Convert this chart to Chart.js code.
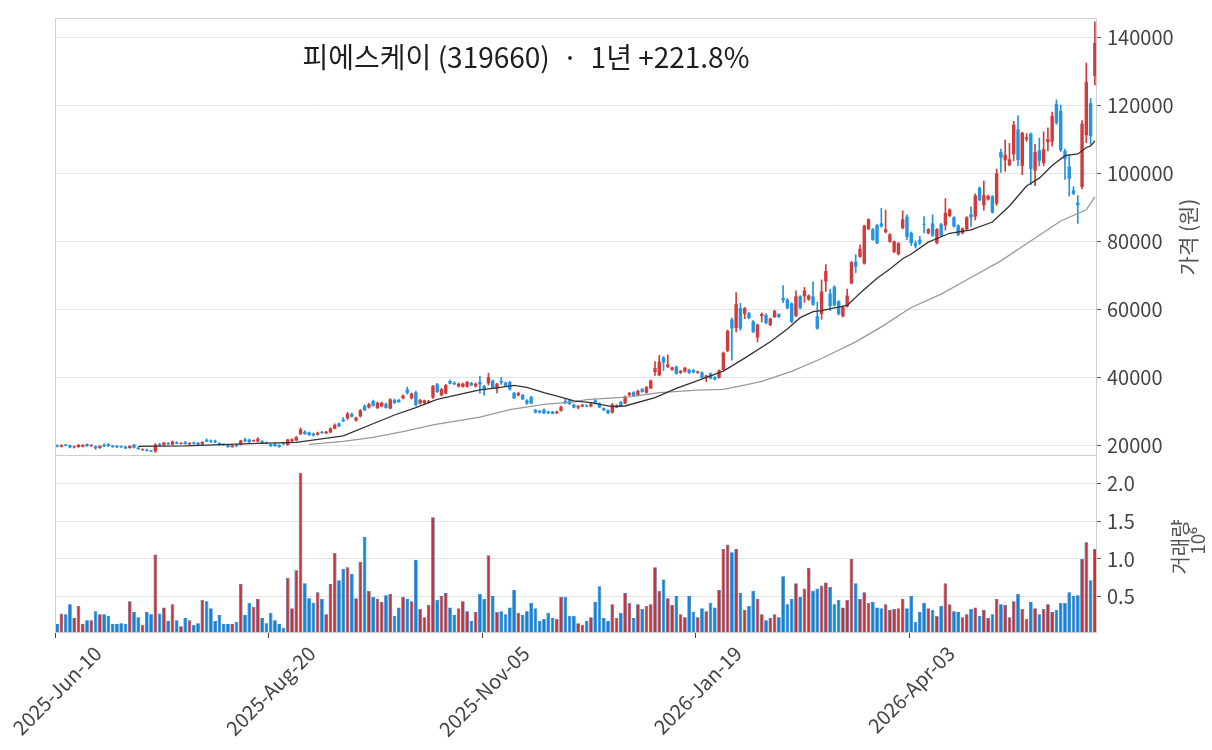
<!DOCTYPE html>
<html><head><meta charset="utf-8">
<script src="https://cdn.jsdelivr.net/npm/chart.js@4.4.1/dist/chart.umd.min.js"></script>
<style>
html,body{margin:0;padding:0;background:#fff;}
#wrap{position:relative;width:1212px;height:750px;background:#fff;}
canvas{position:absolute;left:0;top:0;}
</style></head><body>
<div id="wrap"><canvas id="price" width="1212" height="750"></canvas><canvas id="vol" width="1212" height="750"></canvas></div>
<script>
// ---------------- data ----------------
const startDate = '2025-06-10';
const holidays = ['2025-08-15','2025-10-03','2025-10-06','2025-10-07','2025-10-08','2025-10-09','2025-12-25','2025-12-31','2026-01-01','2026-02-16','2026-02-17','2026-02-18','2026-03-02','2026-05-01','2026-05-05','2026-05-25','2026-06-03'];
const tickEvery = 50;
const priceTicks = [20000, 40000, 60000, 80000, 100000, 120000, 140000];
const volumeTicks = [0.5, 1.0, 1.5, 2.0];
const titleText = '피에스케이 (319660)  ·  1년 +221.8%';
const priceLabel = '가격 (원)';
const volumeLabel = '거래량';
const volumeUnit = '10⁶';

const opens = [
20100,19700,20150,20100,19500,19600,19700,20400,19900,19800,
19300,20300,20400,20000,19900,19700,19700,19300,20300,19400,
18700,18800,18500,18300,20400,20200,20600,20300,21000,20500,
21000,20400,20900,20800,20400,21700,21300,21400,20800,20400,
20200,19600,20300,20300,21800,21800,21300,21200,21300,21000,
20400,20600,20200,20600,20200,21300,21500,23400,24100,23900,
23500,23200,24000,23600,23900,25000,26500,27700,28000,29300,
27400,28600,31700,31200,33100,31000,31500,32200,30900,33400,
33400,33900,36500,33900,35700,32400,32500,32700,34100,38000,
34800,35300,39000,38500,37400,37300,37300,38400,37400,38700,
37500,38300,39100,36800,39000,38500,38700,35500,34800,34900,
33300,34300,30500,30200,30600,30000,30000,29500,30200,33100,
33300,32000,31200,31500,31800,31500,33300,32400,31000,30400,
29750,31200,32800,32400,34800,35700,34900,36600,35550,36800,
41600,40700,45900,43100,42300,43200,41400,41800,42300,42200,
41400,41500,40000,41200,40100,39900,42300,47800,57100,54600,
60400,58700,58900,56500,51800,58100,58400,55400,57800,58600,
63400,62900,61800,58100,63900,63900,62900,63900,58000,58700,
68200,64700,66700,62400,58000,60900,67700,74000,75500,73500,
83600,83600,84800,85300,82700,79900,76900,76200,83900,87300,
82500,79500,80500,85100,82400,85300,79500,85000,84700,87500,
87100,84700,82400,83600,88000,87300,95800,90600,92300,93300,
91100,106300,103800,102400,105600,112900,102200,110000,111700,100800,
106800,103000,109200,109300,120400,118400,106600,102000,95000,91400,
96000,111200,120600,128600];
const highs = [
20250,20300,20400,20200,19900,20400,20300,20500,20300,19900,
20000,20500,20600,20100,20100,19900,19800,20000,20400,19500,
19100,19000,18600,20600,20700,21000,20900,21400,21200,20900,
21300,20900,21100,21000,21200,22000,21700,21600,20900,20500,
20300,20200,20400,21600,22200,21900,21700,22400,21500,21100,
20500,20700,20300,20800,21900,22000,22700,25200,24400,24000,
23700,24000,24300,24200,25200,26400,26700,28300,29800,29600,
28400,30600,32000,32400,33400,32800,32800,32500,33800,33700,
33600,34900,37200,35500,36000,33600,33400,33300,37700,38300,
36800,38000,39300,38800,38400,38400,38900,38600,38400,40400,
37700,41300,39300,38400,40100,38700,38900,35700,35700,35100,
33500,34500,30700,30400,30800,30200,30100,30200,31600,33800,
33500,32200,31800,32100,32000,32500,33800,32600,31100,30500,
32400,32000,33000,34600,35700,35900,36300,36800,37400,39300,
44700,46500,46200,46700,43100,43400,42100,43000,42500,42400,
41900,41700,40700,41400,40300,42300,47500,54000,57500,65000,
61800,60600,59200,56800,55700,59000,58700,57500,59800,58800,
67000,63200,62000,65500,64100,66500,64300,68100,62100,68700,
73200,66000,67000,62600,60900,66000,74100,76100,79000,84800,
86700,83800,85000,89700,89200,82300,80200,79700,89000,87800,
82800,80200,81500,87300,83800,87800,83800,85300,92600,89600,
87300,84900,84000,87300,90200,94000,96000,97700,93600,93500,
101300,107100,109800,108800,115300,116900,112100,111700,111900,108500,
110400,112200,113400,118000,121600,120100,107100,105600,96100,93500,
115500,132400,122000,144500];
const lows = [
19600,19600,19900,19300,19300,19500,19600,19800,19700,18900,
19200,19700,19700,19500,19400,19400,19100,19200,19300,18900,
18600,18400,18200,18000,20000,20100,20300,20200,20500,20400,
20400,20300,20400,20200,20300,21100,20900,20900,20100,20100,
19500,19500,19700,20200,21100,20900,21200,21100,20600,20500,
19700,19800,19500,20300,20100,21200,21400,23200,23300,23000,
22800,23100,23600,23500,23800,24900,25500,27000,27700,28400,
27200,28400,30300,31000,31600,30900,31400,31000,30800,32400,
32700,33700,35100,33700,31700,32200,32300,32500,33900,35600,
34600,35200,38100,37900,37200,37200,37200,37600,37200,35400,
34800,37800,36800,35500,38000,37500,36300,33800,34600,33500,
32100,32300,29600,29600,29400,29400,29300,29400,30100,32300,
32100,31100,30800,31400,31400,31400,32300,31100,30300,29400,
29500,31100,31500,32300,34700,34500,34800,35700,35400,36700,
40600,40500,42100,42900,42100,41000,41200,41600,41200,41400,
41200,39800,38800,39600,39300,39800,42200,47600,45100,53400,
53900,57300,57300,53200,50500,56300,55800,55200,57600,57600,
62000,60200,56100,57900,60200,62100,62700,61200,54200,57100,
65300,59700,61000,58400,57800,60700,67500,70800,75300,73300,
83400,80300,79300,84200,82500,79700,76700,76000,83700,80500,
78800,78000,79000,82500,82200,81500,79300,81400,83300,87300,
84200,81700,82200,83400,84400,86300,91900,89200,92100,88300,
90600,100300,100600,102200,103700,102200,99600,109400,96700,96400,
102200,102200,106600,108000,114400,106400,98200,93300,93700,85300,
95400,109000,108500,126000];
const closes = [
19700,20200,20050,19500,19700,20200,20200,19900,20100,19200,
19900,19800,19900,19600,19500,19600,19200,19900,19400,19000,
19000,18500,18300,20300,20200,20900,20500,21200,20600,20800,
20500,20800,20500,20300,21100,21200,21200,21000,20300,20300,
19600,20000,19900,21500,21300,21000,21600,22000,20700,20600,
19900,19900,19600,20400,21800,21900,22500,24800,23400,23100,
23000,23800,23700,24100,25100,26100,25700,27200,29400,28500,
28200,30400,30400,32200,31700,32600,32600,31100,33600,32500,
32800,34700,35500,35300,31900,33400,33300,33100,37500,35800,
36600,37800,38200,38000,38200,38200,38700,37700,38200,38000,
36500,40100,37000,38200,38500,37600,36500,33900,35400,33600,
32400,32400,29700,29700,29500,29500,29400,30000,31400,32400,
32200,31200,31700,32000,31500,32400,32400,31200,30400,29500,
32100,31900,31600,34400,35500,34600,36100,35800,37200,39100,
42800,44700,44500,43900,43000,41100,42000,42900,41300,41500,
41800,39900,40600,39700,39400,42100,47300,53700,54400,61600,
54400,60400,57500,53400,55600,58700,56000,57300,59600,57800,
62700,60400,56300,63900,60400,65600,64100,61400,54400,65300,
71300,61000,61200,58600,60700,64100,73900,72600,77800,84600,
86500,80500,79500,84400,83600,82100,80000,79500,86500,81300,
79500,78600,79400,84900,83600,81700,83600,81600,88400,89400,
84400,81900,83800,87100,87100,93500,92100,93700,93400,88500,
100000,104600,105500,104100,114300,103900,111900,110600,101300,106300,
103700,107100,110000,116900,114800,106800,104200,98400,94000,90700,
114600,126900,110900,138300];
// volume in millions of shares
const volumes = [
0.14,0.28,0.27,0.40,0.22,0.38,0.14,0.19,0.19,0.31,
0.27,0.27,0.25,0.14,0.14,0.15,0.14,0.44,0.30,0.23,
0.13,0.30,0.27,1.06,0.28,0.36,0.18,0.40,0.19,0.11,
0.22,0.19,0.13,0.15,0.46,0.44,0.35,0.18,0.26,0.14,
0.14,0.14,0.17,0.67,0.26,0.42,0.37,0.47,0.22,0.15,
0.29,0.19,0.14,0.09,0.75,0.35,0.85,2.14,0.68,0.48,
0.42,0.56,0.47,0.27,0.67,1.08,0.72,0.87,0.89,0.80,
0.48,0.96,1.29,0.58,0.50,0.47,0.43,0.52,0.54,0.25,
0.36,0.50,0.47,0.44,0.99,0.34,0.23,0.39,1.55,0.46,
0.51,0.55,0.36,0.26,0.35,0.44,0.31,0.18,0.30,0.54,
0.47,1.05,0.51,0.30,0.31,0.27,0.36,0.59,0.29,0.26,
0.31,0.42,0.35,0.18,0.21,0.29,0.22,0.21,0.50,0.50,
0.25,0.25,0.15,0.13,0.18,0.23,0.43,0.64,0.22,0.18,
0.40,0.22,0.29,0.55,0.42,0.22,0.40,0.34,0.38,0.40,
0.89,0.58,0.73,0.48,0.39,0.51,0.27,0.23,0.51,0.30,
0.23,0.35,0.31,0.42,0.36,0.59,1.13,1.19,1.09,1.13,
0.55,0.33,0.38,0.58,0.47,0.27,0.19,0.22,0.27,0.23,
0.77,0.40,0.47,0.68,0.50,0.61,0.88,0.58,0.61,0.65,
0.69,0.63,0.40,0.46,0.36,0.46,1.00,0.68,0.47,0.56,
0.42,0.43,0.36,0.35,0.40,0.33,0.34,0.35,0.47,0.35,
0.51,0.17,0.30,0.42,0.35,0.33,0.25,0.38,0.68,0.40,
0.31,0.30,0.23,0.27,0.34,0.36,0.25,0.33,0.22,0.27,
0.47,0.40,0.39,0.23,0.44,0.54,0.34,0.21,0.43,0.35,
0.27,0.34,0.40,0.30,0.33,0.42,0.42,0.56,0.51,0.52,
1.00,1.22,0.72,1.13];
// moving-average lines: [bar index, value]
const maShortPts = [[19,19800],[30,19950],[42,20450],[47,20650],[56,20950],[67,22900],[79,29000],[84,31200],[89,33600],[95,35300],[99,36400],[103,37000],[107,37700],[110,37100],[114,35600],[119,33900],[121,33150],[125,32650],[130,31450],[133,31650],[140,34100],[145,36800],[150,39100],[156,41900],[161,45700],[167,50500],[171,54300],[174,57600],[177,59400],[179,59700],[182,60450],[185,61200],[188,64800],[192,69200],[195,71900],[198,74900],[200,76300],[204,79800],[209,82400],[214,83400],[219,85700],[223,90400],[227,96300],[230,98600],[233,102300],[236,105200],[239,105700],[241,107600],[242,108050],[243,109500]];
const maLongPts = [[59,20400],[67,21250],[74,22450],[81,24100],[88,26100],[99,28400],[106,30600],[114,32150],[121,32850],[124,33500],[134,34300],[141,35550],[150,36300],[156,36550],[161,37800],[165,38900],[172,41800],[179,45600],[187,50500],[193,54900],[200,60600],[207,64500],[214,69400],[221,74300],[227,79300],[235,86000],[241,89300],[243,93100]];

// ---------------- derived ----------------
const MONTHS = ['Jan','Feb','Mar','Apr','May','Jun','Jul','Aug','Sep','Oct','Nov','Dec'];
const dates = [];
(function(){
  const p = startDate.split('-').map(Number);
  let d = new Date(Date.UTC(p[0], p[1]-1, p[2]));
  const iso = x => x.toISOString().slice(0,10);
  while (dates.length < closes.length) {
    const wd = d.getUTCDay();
    if (wd !== 0 && wd !== 6 && holidays.indexOf(iso(d)) < 0) {
      dates.push(d.getUTCFullYear() + '-' + MONTHS[d.getUTCMonth()] + '-' + String(d.getUTCDate()).padStart(2,'0'));
    }
    d = new Date(d.getTime() + 86400000);
  }
})();
const UP = '#d03c3c', DOWN = '#2393e2';
const VUP = '#cf3030', VDOWN = '#1483d6', VEDGE = '#1d6fbd';
const candleColors = closes.map((c,i) => c >= opens[i] ? UP : DOWN);
const volColors = closes.map((c,i) => c >= opens[i] ? VUP : VDOWN);
const bodies = opens.map((o,i) => [o, closes[i]]);
const wicks = lows.map((l,i) => [l, highs[i]]);
function sparse(pts){ const a = new Array(closes.length).fill(null); pts.forEach(p => { a[p[0]] = p[1]; }); return a; }

const FONT = "'Noto Sans CJK KR', 'Noto Sans', sans-serif";
const GRID = '#e4e4e4', FRAME = '#cfcfcf', TEXT = '#444444';
const TICK_FS = 20;

const framePlugin = {
  id: 'frame',
  afterDraw(chart, args, opts) {
    const {ctx, chartArea: a} = chart;
    ctx.save();
    ctx.strokeStyle = FRAME; ctx.lineWidth = 1;
    ctx.strokeRect(Math.round(a.left)+0.5, Math.round(a.top)+0.5, Math.round(a.right-a.left)-1, Math.round(a.bottom-a.top));
    (opts.texts || []).forEach(t => {
      ctx.save();
      ctx.fillStyle = t.color || TEXT;
      ctx.font = t.font;
      ctx.textAlign = 'center'; ctx.textBaseline = 'middle';
      ctx.translate(t.x, t.y);
      if (t.rot) ctx.rotate(t.rot);
      ctx.fillText(t.text, 0, 0);
      ctx.restore();
    });
    if (opts.dateLabels) {
      const xs = chart.scales.x;
      ctx.font = TICK_FS + 'px ' + FONT;
      ctx.fillStyle = TEXT;
      ctx.textAlign = 'center'; ctx.textBaseline = 'middle';
      for (let i = 0; i < dates.length; i += tickEvery) {
        const txt = dates[i];
        const w = ctx.measureText(txt).width;
        const half = (w + TICK_FS * 0.95) / (2 * Math.SQRT2);
        const x = xs.getPixelForValue(i);
        const y = a.bottom + 11 + half;
        ctx.save();
        ctx.translate(x, y);
        ctx.rotate(-Math.PI / 4);
        ctx.fillText(txt, 0, 0);
        ctx.restore();
      }
    }
    ctx.restore();
  }
};

function fixTicks(list) { return s => { s.ticks = list.map(v => ({ value: v })); }; }

new Chart(document.getElementById('price'), {
  type: 'bar',
  data: {
    labels: dates,
    datasets: [
      { type: 'line', data: sparse(maShortPts), borderColor: '#333333', borderWidth: 1.3, pointRadius: 0, spanGaps: true, order: 1, tension: 0 },
      { type: 'line', data: sparse(maLongPts), borderColor: '#999999', borderWidth: 1.3, pointRadius: 0, spanGaps: true, order: 1, tension: 0 },
      { data: bodies, backgroundColor: candleColors, borderWidth: 0, grouped: false, barPercentage: 0.8, categoryPercentage: 1, minBarLength: 1, order: 2 },
      { data: wicks, backgroundColor: candleColors, borderWidth: 0, grouped: false, barThickness: 1, order: 3 }
    ]
  },
  options: {
    responsive: false, animation: false, events: [],
    layout: { padding: { left: 55, top: 12, right: 0, bottom: 295 } },
    plugins: {
      legend: { display: false }, tooltip: { enabled: false },
      frame: { texts: [
        { text: titleText, x: 526, y: 57, font: "28px " + FONT, color: '#1e1e1e' },
        { text: priceLabel, x: 1188, y: 237, rot: -Math.PI/2, font: "21px " + FONT, color: '#555' }
      ] }
    },
    scales: {
      x: { display: false, offset: true, grid: { display: false } },
      y: {
        position: 'right', min: 17250, max: 145650,
        afterBuildTicks: fixTicks(priceTicks),
        afterFit: s => { s.width = 115; },
        grid: { color: GRID, tickColor: '#555', tickLength: 4, drawTicks: true },
        border: { display: false },
        ticks: { color: TEXT, font: { family: FONT, size: TICK_FS }, padding: 6, callback: v => String(v) }
      }
    }
  },
  plugins: [framePlugin]
});

new Chart(document.getElementById('vol'), {
  type: 'bar',
  data: {
    labels: dates,
    datasets: [
      { data: volumes, backgroundColor: volColors, borderColor: VEDGE, borderWidth: 0.7, borderSkipped: false, barPercentage: 0.86, categoryPercentage: 1 }
    ]
  },
  options: {
    responsive: false, animation: false, events: [],
    layout: { padding: { left: 55, top: 455, right: 0, bottom: 0 } },
    plugins: {
      legend: { display: false }, tooltip: { enabled: false },
      frame: { dateLabels: true, texts: [
        { text: volumeLabel, x: 1180, y: 547, rot: -Math.PI/2, font: "20px " + FONT, color: '#555' },
        { text: volumeUnit, x: 1198, y: 541, rot: -Math.PI/2, font: "19px " + FONT, color: '#555' }
      ] }
    },
    scales: {
      x: {
        offset: true,
        afterFit: s => { s.height = 118; s.paddingLeft = 0; s.paddingRight = 0; },
        grid: { drawOnChartArea: false, drawTicks: true, tickLength: 6, color: ctx => (ctx.index % tickEvery === 0 ? '#444' : 'rgba(0,0,0,0)') },
        border: { display: false },
        ticks: { autoSkip: false, maxRotation: 0, minRotation: 0, color: 'rgba(0,0,0,0)', font: { family: FONT, size: 10 },
          callback: (v, i) => '' }
      },
      y: {
        position: 'right', min: 0.035, max: 2.373,
        afterBuildTicks: fixTicks(volumeTicks),
        afterFit: s => { s.width = 115; },
        grid: { color: GRID, tickColor: '#555', tickLength: 4 },
        border: { display: false },
        ticks: { color: TEXT, font: { family: FONT, size: TICK_FS }, padding: 6, callback: v => v.toFixed(1) }
      }
    }
  },
  plugins: [framePlugin]
});
</script>
</body></html>
